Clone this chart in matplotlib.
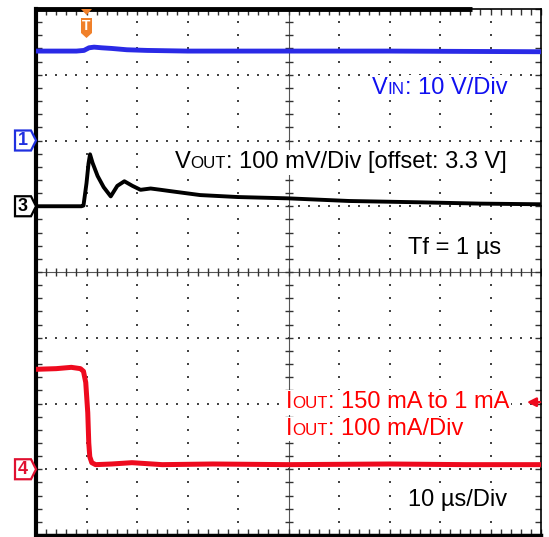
import numpy as np
import matplotlib.pyplot as plt
from matplotlib.patches import Polygon
from matplotlib.transforms import ScaledTranslation

# time in us (10 us/Div, trigger at 0), levels in screen divisions (0..8)
vin_t = [-10, -2, -0.5, 0.5, 1.5, 3, 5, 8, 12, 20, 40, 60, 90]
vin_y = [7.36, 7.36, 7.37, 7.41, 7.42, 7.41, 7.40, 7.38, 7.37, 7.36, 7.36, 7.36, 7.35]

vout_t = [-10, -5, -1, -0.6, 0, 0.4, 0.7, 1.2, 2.2, 3.4, 4.8, 6.1, 7.5, 9.1, 10.7, 12.7,
          14.7, 16.6, 22.5, 30, 40, 52, 66, 78, 90]
vout_y = [5.00, 5.00, 5.00, 5.01, 5.35, 5.65, 5.79, 5.66, 5.46, 5.29, 5.15, 5.31, 5.38, 5.31,
          5.25, 5.27, 5.25, 5.23, 5.17, 5.14, 5.12, 5.08, 5.06, 5.04, 5.03]

iout_t = [-10, -6, -3, -1.2, -0.6, -0.15, 0.25, 0.45, 0.65, 1.05, 1.8, 5, 9, 15, 25, 40, 60, 75, 90]
iout_y = [2.52, 2.53, 2.55, 2.53, 2.49, 2.32, 1.86, 1.40, 1.19, 1.10, 1.07, 1.08, 1.10, 1.07,
          1.08, 1.07, 1.08, 1.07, 1.07]

# channel ground markers and trigger level
ch_names = ['1', '3', '4']
ch_levels = [6.0, 5.0, 1.0]
ch_colors = ['#2030e0', 'black', '#e01030']
trig_level = 2.02

blue = '#2a2ae6'
red = '#ee0a1e'
FONT = 'Liberation Sans'
SIZE = 17

fig = plt.figure(figsize=(5.49, 5.37), dpi=100)
ax = fig.add_axes([36 / 549, 2 / 537, 505 / 549, 526 / 537])
ax.set_xlim(-10, 90)
ax.set_ylim(0, 8)

# scope graticule: dotted division lines
minor_y = np.arange(0, 8.01, 0.2)
minor_x = np.arange(-10, 90.01, 2)
for gx in range(0, 90, 10):
    if gx != 40:
        ax.scatter(np.full(len(minor_y), gx), minor_y, s=2.5, marker='s', color='#444444', lw=0, zorder=1)
for gy in range(1, 8):
    if gy != 4:
        ax.scatter(minor_x, np.full(len(minor_x), gy), s=2.5, marker='s', color='#444444', lw=0, zorder=1)

# center cross with ticks
ax.axvline(40, color='#555555', lw=0.8, zorder=1)
ax.axhline(4, color='#555555', lw=0.8, zorder=1)
ax.plot(np.full(len(minor_y), 40), minor_y, ls='none', marker='_', ms=6, mew=1, color='#333333', zorder=1)
ax.plot(minor_x, np.full(len(minor_x), 4), ls='none', marker='|', ms=6, mew=1, color='#333333', zorder=1)

# edge ticks
ax.set_xticks(minor_x)
ax.set_yticks(minor_y)
ax.tick_params(direction='in', length=4, width=1, colors='#333333', top=True, right=True,
               labelbottom=False, labelleft=False)
ax.spines['left'].set_linewidth(3)
ax.spines['bottom'].set_linewidth(2.5)
ax.spines['right'].set_linewidth(1.2)
ax.spines['top'].set_linewidth(1.2)
ax.plot([-10, 76.3], [8, 8], color='black', lw=3.5, solid_capstyle='butt', clip_on=False, zorder=5)

# traces
ax.plot(vin_t, vin_y, color=blue, lw=3.5, zorder=3)
ax.plot(vout_t, vout_y, color='black', lw=2.8, zorder=3)
ax.plot(iout_t, iout_y, color=red, lw=3.6, zorder=3)


def px_offset(x, y):
    # vertices given in pixels (1/100 inch) around a data point
    return fig.dpi_scale_trans + ScaledTranslation(x, y, ax.transData)


# channel markers on the left
for name, lev, col in zip(ch_names, ch_levels, ch_colors):
    verts = np.array([(-21, -10), (-5, -10), (0, 0), (-5, 10), (-21, 10)]) / 100
    ax.add_patch(Polygon(verts, closed=True, fc='white', ec=col, lw=1.6,
                         transform=px_offset(-10, lev), clip_on=False, zorder=6))
    ax.text(-0.13, 0.0, name, color=col, fontsize=13, fontweight='bold', family=FONT,
            ha='center', va='center', transform=px_offset(-10, lev), clip_on=False, zorder=7)

# trigger marker on top
tri = np.array([(-5.5, 0), (5.5, 0), (0, -6)]) / 100
ax.add_patch(Polygon(tri, closed=True, fc='#f0802a', ec='none', transform=px_offset(0, 8),
                     clip_on=False, zorder=6))
shield = np.array([(-5.5, -9), (5.5, -9), (5.5, -24), (0, -29), (-5.5, -24)]) / 100
ax.add_patch(Polygon(shield, closed=True, fc='#f0802a', ec='none', transform=px_offset(0, 8),
                     clip_on=False, zorder=6))
ax.text(0, -0.175, 'T', color='white', fontsize=10, fontweight='bold', family=FONT,
        ha='center', va='center', transform=px_offset(0, 8), zorder=7)

# trigger level arrow on the right
ax.annotate('', xy=(87.2, trig_level), xytext=(89.8, trig_level),
            arrowprops=dict(arrowstyle='-|>', color=red, lw=1.8, mutation_scale=13,
                            shrinkA=0, shrinkB=0),
            annotation_clip=False, zorder=9)

renderer = fig.canvas.get_renderer()


def label(x, y, parts, color, right=None):
    # text made of pieces, small pieces act as subscript-like labels on the baseline
    texts = []
    x0 = x
    for s, small in parts:
        t = ax.text(x, y, s, color=color, fontsize=SIZE * 0.72 if small else SIZE, family=FONT,
                    ha='left', va='baseline', zorder=8,
                    bbox=dict(fc='white', ec='none', pad=1))
        texts.append(t)
        bb = t.get_window_extent(renderer=renderer)
        x = ax.transData.inverted().transform((bb.x1, bb.y0))[0]
    if right is not None:
        shift = right - x
        for t in texts:
            t.set_x(t.get_position()[0] + shift)
        x0 += shift
    return x0


label(56.5, 6.71, [('V', False), ('IN', True), (': 10 V/Div', False)], '#1010f0')
label(17.5, 5.58, [('V', False), ('OUT', True), (': 100 mV/Div [offset: 3.3 V]', False)], 'black')
label(63.7, 4.27, [('Tf = 1 µs', False)], 'black')
left = label(50, 1.93, [('I', False), ('OUT', True), (': 150 mA to 1 mA', False)], '#ff0000', right=83.8)
label(left, 1.52, [('I', False), ('OUT', True), (': 100 mA/Div', False)], '#ff0000')
label(63.7, 0.44, [('10 µs/Div', False)], 'black')

fig.savefig('out.png', dpi=100)
